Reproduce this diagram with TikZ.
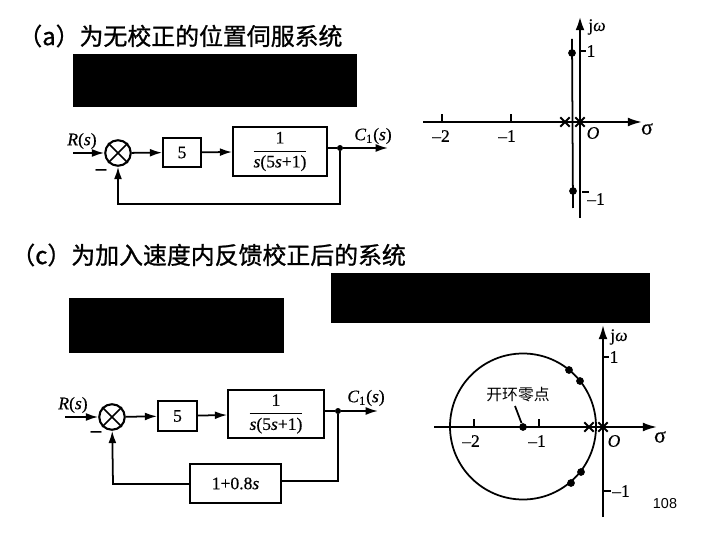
\documentclass[tikz,border=0pt]{standalone}
\usepackage{fontspec}
\setmainfont{Liberation Serif}[FakeBold=0.4,ItalicFeatures={FakeBold=0.4}]
\newfontfamily\cjk{Noto Sans CJK SC}[FakeBold=1.0]
\newfontfamily\cjksmall{Noto Sans CJK SC}
\newfontfamily\pagefont{Liberation Sans}
\usetikzlibrary{arrows.meta,shapes.misc}
\newcommand{\sv}{\textit{s}}
\newcommand{\jw}{j\textit{ω}}
\tikzset{
  wire/.style={line width=1pt},
  flow/.style={wire,-{Latex[length=7pt,width=4.5pt]}},
  blockbox/.style={draw,line width=1pt,inner sep=0pt},
  sumring/.style={draw,line width=1.2pt,circle,minimum size=14.5pt,inner sep=0pt},
  axis/.style={line width=1.05pt,-{Latex[length=8pt,width=5pt]}},
  rootdot/.style={circle,fill=black,inner sep=0pt,minimum size=4.4pt},
  polemark/.style={draw,cross out,line width=1.1pt,inner sep=0pt,minimum size=4.2pt},
  heading/.style={anchor=west,inner sep=0pt,font=\cjk\fontsize{13.6}{16}\selectfont},
  censor/.style={fill=black,inner sep=0pt,anchor=north west},
  sigmalabel/.style={font=\fontsize{12.5}{14}\selectfont},
  minuslabel/.style={font=\fontsize{12}{14}\selectfont\bfseries},
}
\begin{document}
\begin{tikzpicture}[x=0.02cm,y=-0.02cm,font=\normalsize]
    \useasboundingbox (0,0) rectangle (720,540);
    \node[heading] (titleA) at (18,36) {（a）为无校正的位置伺服系统};
    \node[heading] (titleC) at (11,255) {（c）为加入速度内反馈校正后的系统};
    \node[censor,minimum width=284*0.02cm,minimum height=53*0.02cm] (maskA) at (73,54) {};
    \node[censor,minimum width=319*0.02cm,minimum height=50*0.02cm] (maskB) at (331,273) {};
    \node[censor,minimum width=215*0.02cm,minimum height=55*0.02cm] (maskC) at (69,298) {};

    % block diagram (a)
    \coordinate (inA) at (73,153);
    \node[sumring] (sumA) at (118,153) {};
    \draw[wire] (sumA.north west) -- (sumA.south east) (sumA.north east) -- (sumA.south west);
    \node[blockbox,minimum width=38*0.02cm,minimum height=29*0.02cm] (fiveA) at (182,152.5) {5};
    \node[blockbox,minimum width=94*0.02cm,minimum height=49*0.02cm] (plantA) at (280,151.5) {$\displaystyle\frac{\textrm{1}}{\sv\textrm{(5}\sv\textrm{+1)}}$};
    \node[circle,fill=black,inner sep=0pt,minimum size=3.4pt] (tapA) at (340,148) {};
    \coordinate (outA) at (388,148);
    \coordinate (backA) at (340,204);
    \coordinate (cornerA) at (118,204);
    \node (rlabelA) at (82,141) {\textit{R}(\sv)};
    \node (clabelA) at (373,136) {\textit{C}\textsubscript{1}(\sv)};
    \node[minuslabel] (minusA) at (101,172) {--};
    \draw[flow] (inA) -- (sumA);
    \draw[flow] (sumA) -- (fiveA);
    \draw[flow] (fiveA) -- (plantA);
    \draw[wire] (plantA.east |- tapA) -- (tapA);
    \draw[flow] (tapA) -- (outA);
    \draw[flow] (tapA) -- (backA) -- (cornerA) -- (sumA);

    % root locus (a)
    \coordinate (sleftA) at (423,122);
    \coordinate (srightA) at (642,122);
    \coordinate (wtopA) at (580,16);
    \coordinate (wbotA) at (580,218);
    \coordinate (ltopA) at (572,39);
    \coordinate (lbotA) at (573,208);
    \draw[axis] (sleftA) -- (srightA);
    \draw[axis,line width=1.5pt] (wbotA) -- (wtopA);
    \draw[wire] (ltopA) -- (lbotA);
    \node[rootdot] (dotupA) at (572,53) {};
    \node[rootdot] (dotdnA) at (573,191) {};
    \node[polemark] (poleoneA) at (565,122) {};
    \node[polemark] (polezeroA) at (580,122) {};
    \foreach \x in {442,511}{\draw[wire] (\x,122) -- (\x,114);}
    \draw[wire] (580,51) -- (586,51) (582,192) -- (589,192);
    \node (twoA) at (441,136) {--2};
    \node (oneA) at (507,136) {--1};
    \node (upA) at (591,51) {1};
    \node (dnA) at (596,199) {--1};
    \node (zeroA) at (593,133) {\textit{O}};
    \node[sigmalabel] (sigmaA) at (647,129) {σ};
    \node (omegaA) at (597,27) {\jw};

    % block diagram (c)
    \coordinate (inC) at (65,417);
    \node[sumring] (sumC) at (112,417) {};
    \draw[wire] (sumC.north west) -- (sumC.south east) (sumC.north east) -- (sumC.south west);
    \node[blockbox,minimum width=39*0.02cm,minimum height=30*0.02cm] (fiveC) at (177.5,416) {5};
    \node[blockbox,minimum width=96*0.02cm,minimum height=48*0.02cm] (plantC) at (276,414) {$\displaystyle\frac{\textrm{1}}{\sv\textrm{(5}\sv\textrm{+1)}}$};
    \node[blockbox,minimum width=91*0.02cm,minimum height=39*0.02cm] (gainC) at (235.5,483.5) {1+0.8\sv};
    \node[circle,fill=black,inner sep=0pt,minimum size=3.4pt] (tapC) at (338,411) {};
    \coordinate (outC) at (378,411);
    \coordinate (backC) at (338,481);
    \coordinate (cornerC) at (113,484);
    \node (rlabelC) at (73,405) {\textit{R}(\sv)};
    \node (clabelC) at (366,398) {\textit{C}\textsubscript{1}(\sv)};
    \node[minuslabel] (minusC) at (96,434) {--};
    \draw[flow] (inC) -- (sumC);
    \draw[flow] (sumC) -- (fiveC);
    \draw[flow] (fiveC) -- (plantC);
    \draw[wire] (plantC.east |- tapC) -- (tapC);
    \draw[flow] (tapC) -- (outC);
    \draw[wire] (tapC) -- (backC) -- (gainC.east |- backC);
    \draw[flow] (gainC.west |- cornerC) -- (cornerC) -- (sumC);

    % root locus (c)
    \coordinate (sleftC) at (434,427);
    \coordinate (srightC) at (657,427);
    \coordinate (wtopC) at (603,325);
    \coordinate (wbotC) at (603,517);
    \draw[axis] (sleftC) -- (srightC);
    \draw[axis] (wbotC) -- (wtopC);
    \node[draw,circle,wire,inner sep=0pt,minimum size=146*0.02cm] (locusC) at (523,426.5) {};
    \node[rootdot] (zeropt) at (523,427) {};
    \foreach \n/\x/\y in {a/569/370,b/580/381,c/581/472,d/571/483}{
      \node[rootdot] (dot\n) at (\x,\y) {};
    }
    \node[polemark] (poleoneC) at (589,427) {};
    \node[polemark] (polezeroC) at (603,427) {};
    \foreach \x in {474,539}{\draw[wire] (\x,427) -- (\x,419);}
    \draw[wire] (603,357) -- (609,357) (603,491) -- (611,491);
    \node[font=\cjksmall\fontsize{9}{10}\selectfont,inner sep=1pt] (zerotext) at (518,395) {开环零点};
    \coordinate (leaderC) at (515,406);
    \draw[wire] (leaderC) -- (zeropt);
    \node (twoC) at (471,441) {--2};
    \node (oneC) at (537,441) {--1};
    \node (upC) at (614,357) {1};
    \node (dnC) at (621,491) {--1};
    \node (zeroC) at (614,441) {\textit{O}};
    \node[sigmalabel] (sigmaC) at (660,437) {σ};
    \node (omegaC) at (619,337) {\jw};
    \node[font=\pagefont\fontsize{8.2}{10}\selectfont] (pagenum) at (665,504) {108};
  \end{tikzpicture}
\end{document}
